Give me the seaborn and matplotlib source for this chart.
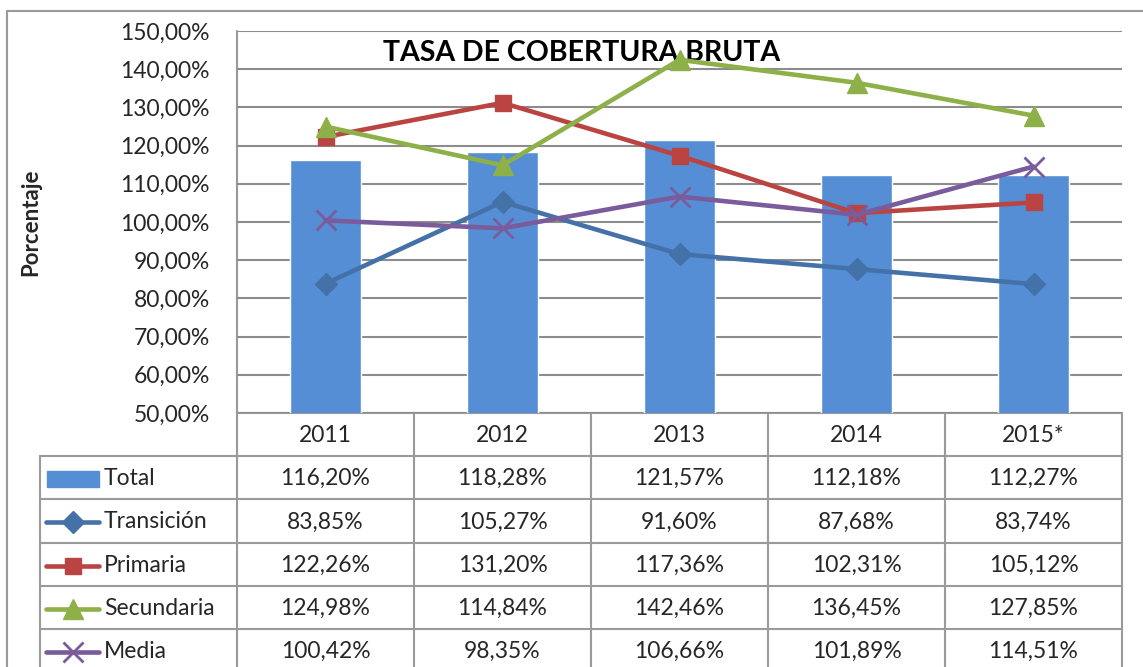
import numpy as np
import pandas as pd
import seaborn as sns
import matplotlib.pyplot as plt
from matplotlib.patches import Rectangle

anios = ["2011", "2012", "2013", "2014", "2015*"]
total = [116.20, 118.28, 121.57, 112.18, 112.27]
transicion = [83.85, 105.27, 91.60, 87.68, 83.74]
primaria = [122.26, 131.20, 117.36, 102.31, 105.12]
secundaria = [124.98, 114.84, 142.46, 136.45, 127.85]
media = [100.42, 98.35, 106.66, 101.89, 114.51]

series = [
    ("Transición", transicion, "#4472A8", "D", 11),
    ("Primaria", primaria, "#B94441", "s", 12),
    ("Secundaria", secundaria, "#8DB048", "^", 14),
    ("Media", media, "#7A5B9C", "x", 14),
]
bar_color = "#558ED5"
grid_color = "#8C8C8C"
fs = 16.5

sns.set_theme(style="white")
plt.rcParams["font.family"] = ["Lato", "DejaVu Sans"]

W, H = 1143, 667
fig = plt.figure(figsize=(W / 100, H / 100), dpi=100)

# area del grafico en pixeles
x0, x1, ytop, ybot = 237, 1122, 31, 413
ax = fig.add_axes([x0 / W, 1 - ybot / H, (x1 - x0) / W, (ybot - ytop) / H])

df_bar = pd.DataFrame({"anio": anios, "valor": total})
sns.barplot(data=df_bar, x="anio", y="valor", order=anios, color=bar_color,
            saturation=1, width=0.4, ax=ax, zorder=2)

pos = np.arange(len(anios))
for nombre, vals, col, mk, ms in series:
    d = pd.DataFrame({"x": pos, "y": vals})
    sns.lineplot(data=d, x="x", y="y", color=col, lw=3.3, marker=mk,
                 markersize=ms, markeredgecolor=col,
                 markeredgewidth=2 if mk == "x" else 1, ax=ax, zorder=4)

ax.set_xlim(-0.5, len(anios) - 0.5)
ax.set_ylim(50, 150)
yt = np.arange(50, 151, 10)
ax.set_yticks(yt)
ax.set_yticklabels([f"{v:.2f}%".replace(".", ",") for v in yt], fontsize=fs)
ax.tick_params(axis="y", length=0, pad=19.5)
ax.set_xticks([])
ax.set_xlabel("")
ax.set_ylabel("")
for v in yt:
    ax.axhline(v, color=grid_color, lw=1.5, zorder=1)
for s in ["top", "right", "bottom", "left"]:
    ax.spines[s].set_visible(False)

# capa en pixeles: marco, titulo y tabla de datos
ov = fig.add_axes([0, 0, 1, 1], zorder=-1)
ov.set_xlim(0, W)
ov.set_ylim(H, 0)
ov.axis("off")

ov.plot([7, W], [11, 11], color="#9A9A9A", lw=1.5)
ov.plot([7, 7], [11, H], color="#9A9A9A", lw=1.5)

ax_t = fig.add_axes([0, 0, 1, 1], facecolor="none")
ax_t.set_xlim(0, W)
ax_t.set_ylim(H, 0)
ax_t.axis("off")
ax_t.text(582, 53, "TASA DE COBERTURA BRUTA", ha="center", va="center",
          fontsize=20.5, fontweight="bold", color="black")
ax_t.set_zorder(1)
ax.set_zorder(2)
ax.patch.set_alpha(0)

ov.text(31, 222, "Porcentaje", rotation=90, ha="center", va="center",
        fontsize=16, fontweight="bold")

cols = np.linspace(x0, x1, len(anios) + 1)
rows = [413, 456, 499, 543, 586, 629, 672]
lc = "#9A9A9A"
ov.plot([x0, x0], [ytop, H], color=lc, lw=1.5)
for c in cols[1:]:
    ov.plot([c, c], [rows[0], H], color=lc, lw=1.5)
ov.plot([40, 40], [rows[1], H], color=lc, lw=1.5)
ov.plot([x0, x1], [rows[0], rows[0]], color=lc, lw=1.5)
for r in rows[1:-1]:
    ov.plot([40, x1], [r, r], color=lc, lw=1.5)

for i, a in enumerate(anios):
    cx = (cols[i] + cols[i + 1]) / 2
    ov.text(cx, (rows[0] + rows[1]) / 2 + 1, a, ha="center", va="center", fontsize=fs)

tabla = [("Total", total, None, None, None)] + [(n, v, c, m, s) for n, v, c, m, s in series]
for j, (nombre, vals, col, mk, ms) in enumerate(tabla):
    cy = (rows[j + 1] + rows[j + 2]) / 2 + 1
    if col is None:
        ov.add_patch(Rectangle((47, cy - 8), 52, 16, color=bar_color))
    else:
        ov.plot([46, 99], [cy, cy], color=col, lw=3.3, solid_capstyle="round")
        ov.plot([72.5], [cy], marker=mk, color=col, markersize=ms,
                markeredgecolor=col, markeredgewidth=2 if mk == "x" else 1)
    ov.text(104, cy, nombre, ha="left", va="center", fontsize=fs)
    for i, v in enumerate(vals):
        cx = (cols[i] + cols[i + 1]) / 2
        ov.text(cx, cy, f"{v:.2f}%".replace(".", ","), ha="center", va="center", fontsize=fs)

fig.savefig("out.png", dpi=100)
